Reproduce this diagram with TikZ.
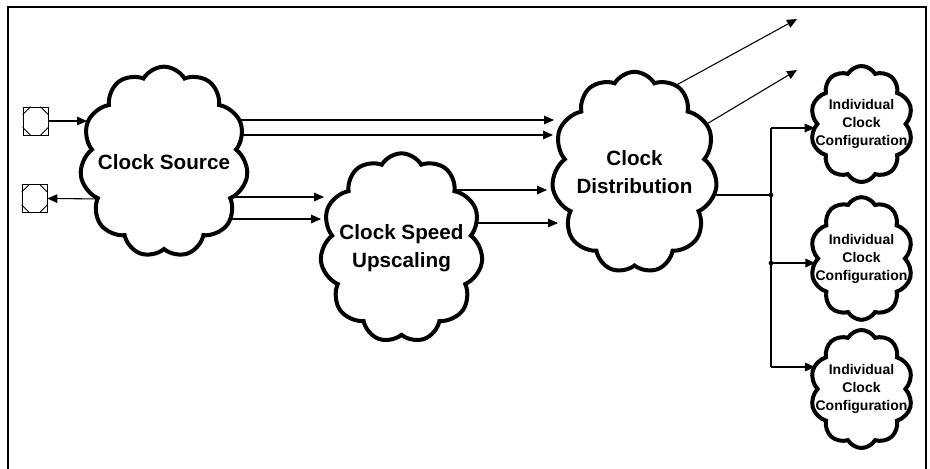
\documentclass[tikz,border=0pt]{standalone}
\usepackage{fontspec}
\setmainfont{Liberation Sans}
\usetikzlibrary{shapes.symbols,arrows.meta,calc}
\pgfdeclarelayer{back}
\pgfsetlayers{back,main}
\begin{document}
\begin{tikzpicture}[x=0.75pt,y=-0.75pt,
  cloudbox/.style={cloud, cloud puffs=11, cloud puff arc=120, cloud ignores aspect, draw, line width=3pt, fill=white, inner sep=0pt},
  bigtxt/.style={font=\fontsize{15.5}{21}\selectfont\bfseries, align=center},
  smalltxt/.style={font=\fontsize{10.5}{13.5}\selectfont\bfseries, align=center},
  arr/.style={line width=0.8pt, -{Triangle[length=7.5pt,width=6.5pt]}},
  wire/.style={line width=0.8pt},
  term/.style={draw, line width=0.6pt, minimum width=18.75pt, minimum height=21pt, inner sep=0pt, fill=white},
  dot/.style={circle, fill=black, inner sep=0pt, minimum size=3.5pt}
]
\useasboundingbox (0,0) rectangle (930,468);
\draw[line width=1.5pt] (8,470) -- (8,7) -- (926,7) -- (926,470);

% clouds
\node[cloudbox, minimum width=126pt, minimum height=143pt,
  label={[bigtxt]center:Clock Source}] (src) at (164,162) {};
\node[cloudbox, minimum width=122pt, minimum height=142pt,
  label={[bigtxt]center:{Clock Speed\\Upscaling}}] (up) at (401.5,248) {};
\node[cloudbox, minimum width=124pt, minimum height=151pt,
  label={[bigtxt]center:{Clock\\Distribution}}] (dist) at (634.5,172.5) {};
\node[cloudbox, cloud puffs=10, minimum width=77pt, minimum height=87pt,
  label={[smalltxt]center:{Individual\\Clock\\Configuration}}] (ind1) at (861.5,124) {};
\node[cloudbox, cloud puffs=10, minimum width=77pt, minimum height=92pt,
  label={[smalltxt]center:{Individual\\Clock\\Configuration}}] (ind2) at (861.5,258.5) {};
\node[cloudbox, cloud puffs=10, minimum width=77pt, minimum height=88.5pt,
  label={[smalltxt]center:{Individual\\Clock\\Configuration}}] (ind3) at (861.5,389) {};

% terminals
\node[term] (t1) at (35.5,121) {};
\node[term] (t2) at (34.5,198.5) {};
\foreach \t in {t1,t2} {
  \draw[line width=0.6pt] ($(\t.north west)+(0,8)$) -- ($(\t.north west)+(8,0)$)
    ($(\t.north east)+(-8,0)$) -- ($(\t.north east)+(0,8)$)
    ($(\t.south west)+(0,-8)$) -- ($(\t.south west)+(8,0)$)
    ($(\t.south east)+(-8,0)$) -- ($(\t.south east)+(0,-8)$);
}

% connector end points
\coordinate (sin) at (87,121);
\coordinate (sout) at (110,199);
\coordinate (sa) at (200,120);
\coordinate (sb) at (200,135);
\coordinate (sc) at (200,197);
\coordinate (sd) at (200,219);
\coordinate (da) at (554,120);
\coordinate (db) at (553,135);
\coordinate (ua) at (324,197);
\coordinate (ub) at (321,219);
\coordinate (uc) at (440,190);
\coordinate (ud) at (440,223);
\coordinate (dc) at (547,190);
\coordinate (dd) at (558,223);
\coordinate (de) at (640,105);
\coordinate (df) at (680,140);
\coordinate (ea) at (797,19);
\coordinate (eb) at (797,70);
\coordinate (dg) at (680,195);
\coordinate (j0) at (771,128);
\coordinate (j1) at (771,195);
\coordinate (j2) at (771,263);
\coordinate (j3) at (771,367);

\begin{pgfonlayer}{back}
\draw[arr] (t1.east) -- (sin);
\draw[arr] (sout) -- (t2.east);
\draw[arr] (sa) -- (da);
\draw[arr] (sb) -- (db);
\draw[arr] (sc) -- (ua);
\draw[arr] (sd) -- (ub);
\draw[arr] (uc) -- (dc);
\draw[arr] (ud) -- (dd);
\draw[arr] (de) -- (ea);
\draw[arr] (df) -- (eb);
\draw[wire] (dg) -- (j1);
\end{pgfonlayer}
\draw[wire] (j0) -- (j3);
\draw[arr] (j0) -- (ind1.west |- j0);
\draw[arr] (j2) -- (ind2.west |- j2);
\draw[arr] (j3) -- (ind3.west |- j3);
\node[dot] (n1) at (j1) {};
\node[dot] (n2) at (j2) {};
\end{tikzpicture}
\end{document}
